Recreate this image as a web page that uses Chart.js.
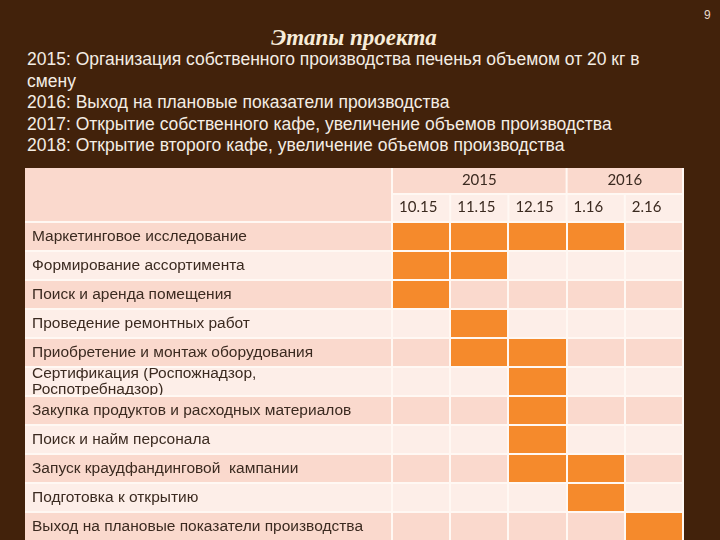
<!DOCTYPE html>
<html lang="ru">
<head>
<meta charset="utf-8">
<script src="https://cdn.jsdelivr.net/npm/chart.js@4"></script>
<style>
  html, body { margin: 0; padding: 0; }
  body { width: 720px; height: 540px; overflow: hidden; position: relative; background: #42220b; font-family: 'Liberation Sans', Arial, sans-serif; }
  .num { position: absolute; left: 704px; top: 8px; font-size: 12px; color: #e9dccd; }
  h1 { position: absolute; left: 0; width: 708px; top: 23px; margin: 0; text-align: center; font: italic bold 23px 'Liberation Serif', serif; color: #f7ecd9; line-height: 30px; }
  .text { position: absolute; left: 27px; top: 49px; font-size: 17.5px; line-height: 21.5px; color: #f4ede4; white-space: nowrap; }
  #gantt { position: absolute; left: 25px; top: 168px; }
</style>
</head>
<body>
<div class="num">9</div>
<h1>Этапы проекта</h1>
<div class="text">
  2015: Организация собственного производства печенья объемом от 20 кг в<br>
  смену<br>
  2016: Выход на плановые показатели производства<br>
  2017: Открытие собственного кафе, увеличение объемов производства<br>
  2018: Открытие второго кафе, увеличение объемов производства
</div>
<canvas id="gantt" width="664" height="384"></canvas>
<script>
const months = ['10.15', '11.15', '12.15', '1.16', '2.16'];
const years = ['2015', '2016'];
const yearStart = [0, 3]; // индекс месяца
const yearEnd = [3, 5];

const tasks = [
  'Маркетинговое исследование',
  'Формирование ассортимента',
  'Поиск и аренда помещения',
  'Проведение ремонтных работ',
  'Приобретение и монтаж оборудования',
  ['Сертификация (Роспожнадзор,', 'Роспотребнадзор)'],
  'Закупка продуктов и расходных материалов',
  'Поиск и найм персонала',
  'Запуск краудфандинговой  кампании',
  'Подготовка к открытию',
  'Выход на плановые показатели производства'
];
// первый месяц и месяц после последнего
const taskStart = [0, 0, 0, 1, 1, 2, 2, 2, 2, 3, 4];
const taskEnd   = [4, 2, 1, 2, 3, 3, 3, 3, 4, 4, 5];

const peachDark = '#fad9cd';
const peachLight = '#fdeee8';
const lineColor = '#fff8f3';
const textColor = '#3b2a20';

const tableBg = {
  id: 'tableBg',
  beforeDraw(chart) {
    const { ctx, chartArea: { left, right, top, bottom }, scales: { x, y, yr } } = chart;
    ctx.save();
    // шапка
    ctx.fillStyle = peachDark;
    ctx.fillRect(0, 0, left, top);
    ctx.fillRect(left, yr.top, right - left, yr.bottom - yr.top);
    ctx.fillStyle = peachLight;
    ctx.fillRect(left, x.top, right - left, x.bottom - x.top);
    // строки
    const h = (bottom - top) / tasks.length;
    tasks.forEach((t, i) => {
      const yc = y.getPixelForValue(i);
      ctx.fillStyle = i % 2 === 0 ? peachDark : peachLight;
      ctx.fillRect(0, yc - h / 2, right, h);
    });
    // линии шапки
    ctx.strokeStyle = lineColor;
    ctx.lineWidth = 2;
    ctx.beginPath();
    ctx.moveTo(left, 0); ctx.lineTo(left, top);
    ctx.moveTo(left, yr.bottom); ctx.lineTo(right, yr.bottom);
    yearStart.concat(yearEnd).forEach(v => {
      const px = x.getPixelForValue(v);
      ctx.moveTo(px, yr.top); ctx.lineTo(px, yr.bottom);
    });
    for (let i = 0; i <= months.length; i++) {
      const px = x.getPixelForValue(i);
      ctx.moveTo(px, x.top); ctx.lineTo(px, x.bottom);
    }
    ctx.stroke();
    ctx.restore();
  }
};

const ctx = document.getElementById('gantt').getContext('2d');
new Chart(ctx, {
  type: 'bar',
  data: {
    labels: tasks,
    datasets: [{
      data: taskStart.map((s, i) => [s, taskEnd[i]]),
      backgroundColor: '#f58a2c',
      borderWidth: 0,
      barPercentage: 1,
      categoryPercentage: 1
    }]
  },
  options: {
    indexAxis: 'y',
    responsive: false,
    animation: false,
    layout: { padding: { left: 7 } },
    plugins: { legend: { display: false }, tooltip: { enabled: false } },
    scales: {
      x: {
        type: 'linear', position: 'top', min: 0, max: 5, weight: 0,
        ticks: {
          stepSize: 1, align: 'start', labelOffset: 7, padding: 6, maxRotation: 0, autoSkip: false,
          color: textColor, font: { family: 'Lato', size: 15 },
          callback: v => months[v] ?? ''
        },
        grid: { color: lineColor, lineWidth: 2, drawTicks: false, z: 1 },
        border: { display: false },
        afterFit: s => { s.height = 28; }
      },
      yr: {
        type: 'linear', position: 'top', min: 0, max: 5, weight: 1,
        afterBuildTicks: s => { s.ticks = years.map((_, i) => ({ value: (yearStart[i] + yearEnd[i]) / 2 })); },
        ticks: {
          padding: 5, maxRotation: 0, autoSkip: false,
          color: textColor, font: { family: 'Lato', size: 15 },
          callback: (v, i) => years[i]
        },
        grid: { display: false, drawTicks: false },
        border: { display: false },
        afterFit: s => { s.height = 26; }
      },
      y: {
        ticks: {
          crossAlign: 'far', autoSkip: false, color: textColor,
          font: { family: 'Liberation Sans', size: 15.5, lineHeight: 0.98 }
        },
        grid: { color: lineColor, lineWidth: 2, tickLength: 367, z: 1 },
        border: { display: false },
        afterFit: s => { s.width = 360; }
      }
    }
  },
  plugins: [tableBg]
});
</script>
</body>
</html>
